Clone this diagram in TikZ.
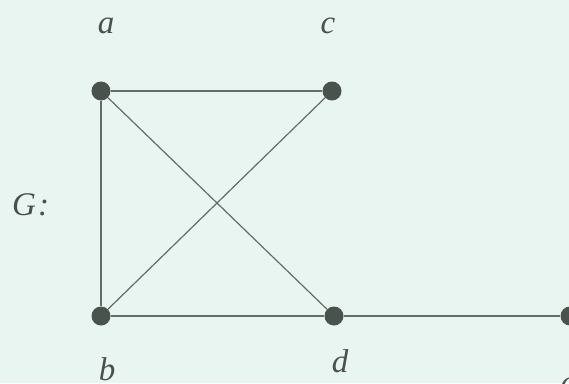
\documentclass[tikz,border=0pt]{standalone}
\usepackage{fontspec}
\setmainfont{Liberation Serif}
\begin{document}
\begin{tikzpicture}[x=1pt,y=-1pt,
  vtx/.style={circle,fill=vcol,inner sep=0pt,minimum size=19pt},
  edge/.style={draw=ecol,line width=1.2pt},
  lbl/.style={anchor=base,inner sep=0pt,text=tcol,font=\fontsize{33}{39}\selectfont\itshape}]
\definecolor{bg}{HTML}{E9F5F0}
\definecolor{vcol}{HTML}{4A524E}
\definecolor{ecol}{HTML}{646C68}
\definecolor{tcol}{HTML}{4A504D}
\fill[bg] (0,0) rectangle (569,383);
\useasboundingbox (0,0) rectangle (569,383);
\node[vtx] (a) at (101,91) {};
\node[vtx] (c) at (332,91) {};
\node[vtx] (b) at (101,316) {};
\node[vtx] (d) at (334,316) {};
\node[vtx] (e) at (570,316) {};
\draw[edge] (a) -- (c);
\draw[edge] (a) -- (b);
\draw[edge] (a) -- (d);
\draw[edge] (b) -- (c);
\draw[edge] (b) -- (d);
\draw[edge] (d) -- (e);
\node[lbl] (la) at (106,33) {a};
\node[lbl] (lc) at (328,33) {c};
\node[lbl] (lb) at (107,380) {b};
\node[lbl] (ld) at (340,372) {d};
\node[lbl] (le) at (568,393) {e};
\node[lbl,anchor=base west] (lG) at (12,215) {G\kern2pt:};
\end{tikzpicture}
\end{document}
